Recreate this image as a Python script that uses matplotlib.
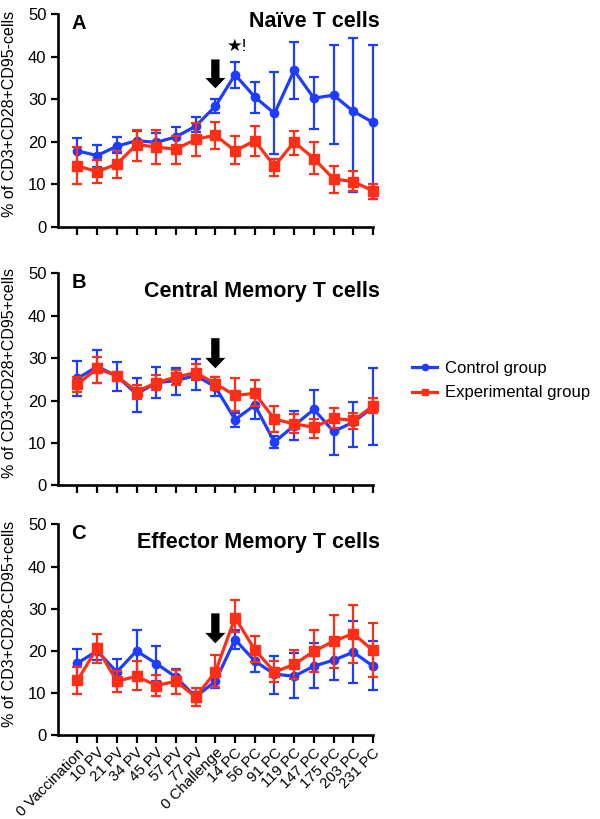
import matplotlib
matplotlib.use('Agg')
import matplotlib.pyplot as plt
from matplotlib.lines import Line2D
import numpy as np

plt.rcParams['font.family'] = ['Liberation Sans', 'DejaVu Sans']

timepoints = ['0 Vaccination', '10 PV', '21 PV', '34 PV', '45 PV', '57 PV', '77 PV',
              '0 Challenge', '14 PC', '56 PC', '91 PC', '119 PC', '147 PC', '175 PC',
              '203 PC', '231 PC']

# panel A - naive
a_ctrl = [17.9, 16.8, 19.0, 20.3, 19.9, 21.2, 23.7, 28.4, 35.8, 30.6, 26.7, 36.8, 30.3, 31.0, 27.2, 24.6]
a_ctrl_hi = [21.0, 19.4, 21.1, 22.5, 22.2, 23.5, 25.9, 30.0, 38.8, 34.2, 36.4, 43.6, 35.3, 42.9, 44.5, 42.7]
a_ctrl_lo = [14.8, 14.2, 17.3, 18.5, 18.1, 19.0, 22.4, 26.9, 32.6, 26.8, 17.2, 30.1, 23.0, 19.5, 8.2, 6.7]
a_exp = [14.4, 13.0, 14.8, 19.4, 18.8, 18.3, 20.6, 21.6, 17.9, 20.3, 14.3, 20.0, 16.1, 11.3, 10.7, 8.5]
a_exp_hi = [18.9, 15.8, 17.9, 22.8, 22.7, 21.5, 24.4, 24.7, 21.4, 23.7, 16.1, 22.6, 20.1, 14.4, 13.1, 10.2]
a_exp_lo = [10.0, 10.3, 11.6, 15.6, 14.9, 14.9, 16.8, 18.4, 14.7, 16.8, 12.0, 16.9, 12.5, 8.1, 8.4, 6.7]

# panel B - central memory
b_ctrl = [25.2, 28.0, 25.8, 21.5, 24.2, 24.7, 25.9, 23.2, 15.5, 18.9, 10.2, 14.1, 17.9, 12.7, 14.9, 18.4]
b_ctrl_hi = [29.3, 31.8, 29.0, 25.4, 27.8, 27.6, 29.8, 25.6, 17.0, 22.1, 11.6, 17.5, 22.5, 16.0, 19.7, 27.6]
b_ctrl_lo = [21.1, 24.2, 22.3, 17.2, 20.7, 21.4, 22.5, 21.1, 13.8, 15.7, 8.7, 10.6, 14.5, 7.1, 9.0, 9.6]
b_exp = [23.8, 27.6, 25.8, 22.1, 24.2, 25.5, 26.6, 24.0, 21.2, 21.7, 15.6, 14.5, 13.7, 15.8, 15.3, 18.7]
b_exp_hi = [25.6, 30.2, 26.8, 23.7, 26.0, 27.2, 28.5, 25.6, 25.3, 24.8, 18.7, 16.8, 15.6, 18.2, 17.0, 20.5]
b_exp_lo = [21.9, 24.1, 24.6, 20.4, 22.4, 23.7, 24.9, 22.4, 17.5, 18.6, 12.6, 12.3, 11.2, 13.5, 13.4, 17.0]

# panel C - effector memory
c_ctrl = [17.1, 20.0, 15.0, 20.0, 17.0, 13.8, 9.1, 12.8, 22.7, 17.6, 14.5, 14.0, 16.4, 17.8, 19.7, 16.4]
c_ctrl_hi = [20.5, 21.7, 18.0, 25.0, 21.1, 15.8, 10.3, 14.7, 24.9, 20.1, 18.8, 19.5, 21.9, 22.5, 27.1, 22.3]
c_ctrl_lo = [13.2, 17.9, 11.6, 14.9, 12.9, 11.6, 8.0, 11.2, 20.5, 15.0, 9.9, 8.8, 11.1, 13.0, 12.5, 10.8]
c_exp = [13.0, 20.7, 12.8, 14.0, 11.8, 12.8, 9.1, 15.0, 27.9, 20.3, 15.0, 16.8, 19.9, 22.3, 24.1, 20.1]
c_exp_hi = [16.2, 24.1, 15.2, 17.6, 14.2, 15.4, 11.3, 19.0, 32.0, 23.5, 17.5, 20.1, 24.9, 28.6, 30.8, 26.5]
c_exp_lo = [9.7, 17.2, 10.3, 10.7, 9.3, 9.9, 6.9, 11.4, 24.5, 17.4, 12.6, 13.4, 15.0, 15.9, 17.1, 13.8]

panel_letters = ['A', 'B', 'C']
panel_titles = ['Naïve T cells', 'Central Memory T cells', 'Effector Memory T cells']
ylabels = ['% of CD3+CD28+CD95-cells', '% of CD3+CD28+CD95+cells', '% of CD3+CD28-CD95+cells']
arrow_tops = [39.4, 34.7, 28.9]
arrow_tips = [32.6, 27.6, 21.8]

BLUE = '#1f3dff'
RED = '#ff2e17'

panels = [
    (a_ctrl, a_ctrl_lo, a_ctrl_hi, a_exp, a_exp_lo, a_exp_hi),
    (b_ctrl, b_ctrl_lo, b_ctrl_hi, b_exp, b_exp_lo, b_exp_hi),
    (c_ctrl, c_ctrl_lo, c_ctrl_hi, c_exp, c_exp_lo, c_exp_hi),
]
positions = [
    [0.0962, 0.7228, 0.532, 0.2597],
    [0.0962, 0.4074, 0.532, 0.2589],
    [0.0962, 0.1022, 0.532, 0.2576],
]

fig = plt.figure(figsize=(6, 8.19), dpi=100)
x = np.arange(len(timepoints))

for i, (ctrl, clo, chi, exp, elo, ehi) in enumerate(panels):
    ax = fig.add_axes(positions[i])
    ctrl = np.array(ctrl); exp = np.array(exp)
    ax.errorbar(x, ctrl, yerr=[ctrl - np.array(clo), np.array(chi) - ctrl],
                color=BLUE, lw=2.3, marker='o', ms=6, elinewidth=1.6,
                capsize=3.8, capthick=1.6, clip_on=False, zorder=3)
    ax.errorbar(x, exp, yerr=[exp - np.array(elo), np.array(ehi) - exp],
                color=RED, lw=2.3, marker='s', ms=6.5, elinewidth=1.6,
                capsize=3.8, capthick=1.6, clip_on=False, zorder=4)

    ax.set_xlim(-1, 15.2)
    ax.set_ylim(0, 50)
    ax.set_yticks([0, 10, 20, 30, 40, 50])
    ax.set_xticks(x)
    if i == 2:
        ax.set_xticklabels(timepoints, rotation=45, ha='right',
                           rotation_mode='anchor', fontsize=10.8)
    else:
        ax.set_xticklabels([])
    ax.spines['top'].set_visible(False)
    ax.spines['right'].set_visible(False)
    ax.spines['left'].set_linewidth(1.9)
    ax.spines['bottom'].set_linewidth(1.9)
    ax.spines['bottom'].set_bounds(-1, 15)
    ax.tick_params(axis='y', direction='out', length=5, width=1.6, labelsize=12, pad=3)
    ax.tick_params(axis='x', direction='out', length=6, width=1.6, pad=1.5)
    ax.set_ylabel(ylabels[i], fontsize=11.5)
    ax.yaxis.set_label_coords(-0.128, 0.53)

    ax.text(-0.3, 47.9, panel_letters[i], fontsize=14.5, fontweight='bold',
            ha='left', va='center')
    ax.text(15.35, 48.3 if i == 0 else 45.8, panel_titles[i], fontsize=15.5,
            fontweight='bold', ha='right', va='center')

    ax.annotate('', xy=(7, arrow_tips[i]), xytext=(7, arrow_tops[i]),
                arrowprops=dict(arrowstyle='simple,head_length=0.75,head_width=1.45,tail_width=0.6',
                                mutation_scale=10, color='black', lw=0,
                                shrinkA=0, shrinkB=0))
    if i == 0:
        ax.text(8.1, 42.5, '★!', fontsize=12.5, ha='center', va='center')

handles = [Line2D([], [], color=BLUE, lw=2.3, marker='o', ms=4.5),
           Line2D([], [], color=RED, lw=2.3, marker='s', ms=4.5)]
fig.legend(handles, ['Control group', 'Experimental group'], loc='center left',
           bbox_to_anchor=(0.662, 0.535), frameon=False, fontsize=12,
           handlelength=1.5, handletextpad=0.45, labelspacing=0.55)

fig.savefig('out.png', dpi=100)
